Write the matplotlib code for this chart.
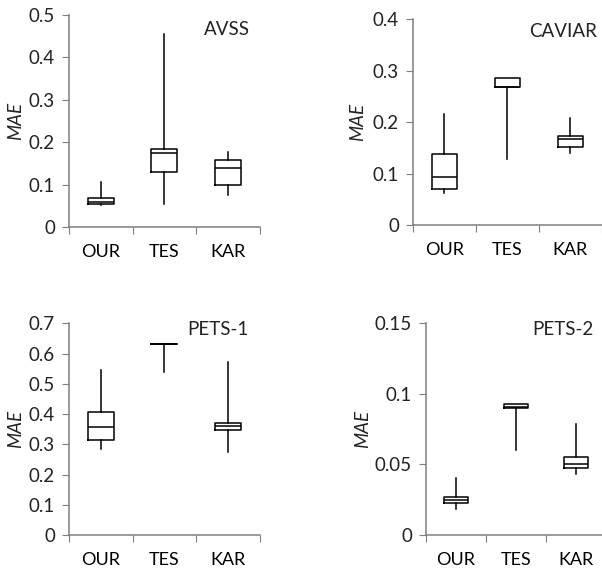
import numpy as np
import matplotlib
matplotlib.use('Agg')
import matplotlib.pyplot as plt

plt.rcParams['font.family'] = ['Lato', 'DejaVu Sans']

methods = ['OUR', 'TES', 'KAR']
titles = ['AVSS', 'CAVIAR', 'PETS-1', 'PETS-2']

# per method: (min, q1, median, q3, max)
avss = [(0.053, 0.055, 0.060, 0.068, 0.107),
        (0.054, 0.130, 0.174, 0.183, 0.455),
        (0.075, 0.098, 0.140, 0.158, 0.178)]
caviar = [(0.063, 0.070, 0.094, 0.137, 0.215),
          (0.128, 0.268, 0.268, 0.285, 0.285),
          (0.139, 0.152, 0.167, 0.172, 0.207)]
pets1 = [(0.284, 0.314, 0.356, 0.406, 0.546),
         (0.539, 0.632, 0.632, 0.632, 0.632),
         (0.276, 0.346, 0.360, 0.372, 0.572)]
pets2 = [(0.0184, 0.0230, 0.0250, 0.0270, 0.0406),
         (0.0600, 0.0902, 0.0910, 0.0926, 0.0926),
         (0.0430, 0.0477, 0.0500, 0.0555, 0.0790)]

y_max = [0.5, 0.4, 0.7, 0.15]
y_step = [0.1, 0.1, 0.1, 0.05]

all_data = [avss, caviar, pets1, pets2]

# axes rectangles in figure fraction (left, bottom, width, height)
rects = [(0.1146, 0.603, 0.317, 0.371),
         (0.686, 0.6066, 0.314, 0.36),
         (0.1146, 0.0647, 0.317, 0.370),
         (0.7076, 0.0647, 0.299, 0.370)]
title_pos = [(2.98, 0.465), (2.88, 0.375), (2.84, 0.681), (2.78, 0.1455)]
label_x = [-0.235, -0.25, -0.235, -0.305]

fig = plt.figure(figsize=(6.02, 5.72), dpi=100)

for i in range(4):
    ax = fig.add_axes(rects[i])
    stats = []
    for m, s in zip(methods, all_data[i]):
        stats.append({'whislo': s[0], 'q1': s[1], 'med': s[2],
                      'q3': s[3], 'whishi': s[4], 'label': m})
    ax.bxp(stats, positions=[1, 2, 3], widths=0.41, showfliers=False,
           showcaps=False,
           boxprops=dict(color='black', linewidth=1.1),
           whiskerprops=dict(color='black', linewidth=1.1),
           medianprops=dict(color='black', linewidth=1.1))

    ax.set_xlim(0.5, 3.5)
    ax.set_ylim(0, y_max[i])
    yt = np.round(np.arange(0, y_max[i] + y_step[i] / 2, y_step[i]), 3)
    ax.set_yticks(yt)
    ax.set_yticklabels(['{:g}'.format(v) for v in yt])

    ax.set_xticks([0.5, 1.5, 2.5, 3.5])
    ax.set_xticklabels([])
    ax.set_xticks([1, 2, 3], minor=True)
    ax.set_xticklabels(methods, minor=True)
    ax.tick_params(axis='x', which='minor', length=0, pad=12, labelsize=13)
    ax.tick_params(axis='x', which='major', length=5, color='#7f7f7f')
    ax.tick_params(axis='y', length=5, color='#7f7f7f', labelsize=13.5,
                   pad=5, labelcolor='#222222')
    ax.tick_params(axis='x', labelcolor='#222222')

    for side in ['top', 'right']:
        ax.spines[side].set_visible(False)
    for side in ['left', 'bottom']:
        ax.spines[side].set_color('#7f7f7f')
        ax.spines[side].set_linewidth(1.1)

    ax.set_ylabel('MAE', fontstyle='italic', fontsize=13.5, color='#222222')
    ax.yaxis.set_label_coords(label_x[i], 0.5)
    ax.text(title_pos[i][0], title_pos[i][1], titles[i], ha='center',
            va='center', fontsize=13.5, color='#222222')

fig.savefig('out.png', dpi=100)
